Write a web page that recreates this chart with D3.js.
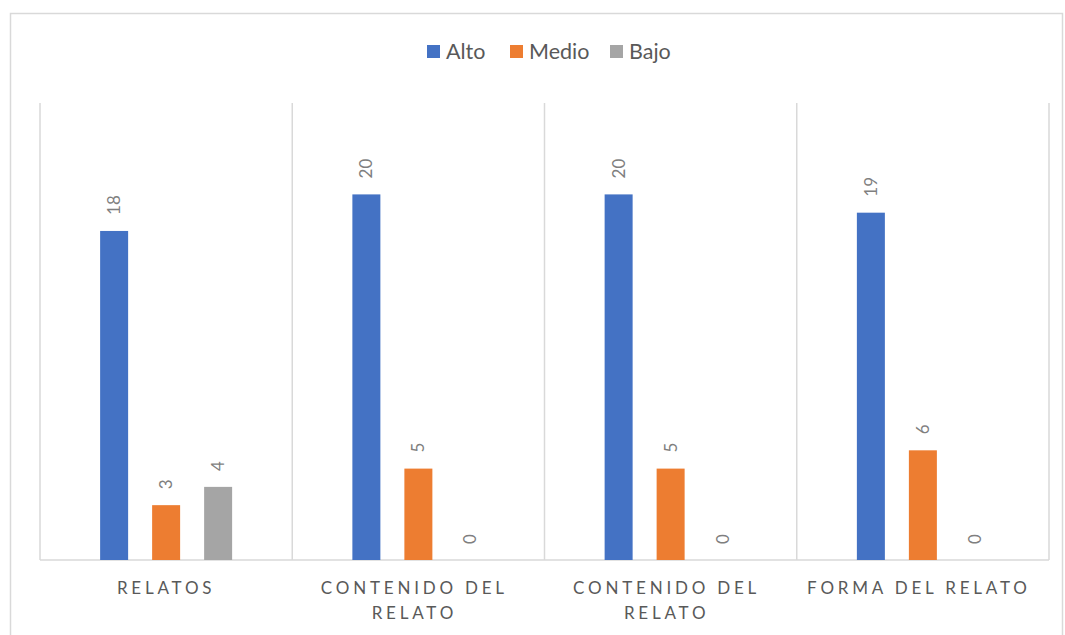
<!DOCTYPE html>
<html><head><meta charset="utf-8">
<script src="https://cdn.jsdelivr.net/npm/d3@7/dist/d3.min.js"></script>
<style>body{margin:0;background:#fff;}svg{display:block;font-family:Lato,"Open Sans",sans-serif;}</style>
</head><body>
<svg id="chart" width="1065" height="635"></svg>
<script>
const categories = [["RELATOS"], ["CONTENIDO DEL", "RELATO"], ["CONTENIDO DEL", "RELATO"], ["FORMA DEL RELATO"]];
const seriesNames = ["Alto", "Medio", "Bajo"];
const seriesColors = ["#4472c4", "#ed7d31", "#a5a5a5"];
const alto = [18, 20, 20, 19];
const medio = [3, 5, 5, 6];
const bajo = [4, 0, 0, 0];
const values = [alto, medio, bajo];

const svg = d3.select("#chart");
// outer chart border
svg.append("rect").attr("x", 10.5).attr("y", 13.5).attr("width", 1052).attr("height", 640)
  .attr("fill", "none").attr("stroke", "#d9d9d9").attr("stroke-width", 1.5);

const pLeft = 40, pRight = 1049, pTop = 103, pBottom = 560;
const x = d3.scaleBand().domain(d3.range(categories.length)).range([pLeft, pRight]).padding(0);
const y = d3.scaleLinear().domain([0, 25]).range([pBottom, pTop]);
const barW = 28, step = 52;

// vertical separators
const seps = d3.range(categories.length + 1).map(i => pLeft + i * x.bandwidth());
svg.selectAll(".sep").data(seps).enter().append("line")
  .attr("x1", d => d).attr("x2", d => d).attr("y1", pTop).attr("y2", pBottom)
  .attr("stroke", "#d9d9d9").attr("stroke-width", 1.5);
svg.append("line").attr("x1", pLeft).attr("x2", pRight).attr("y1", pBottom).attr("y2", pBottom)
  .attr("stroke", "#d9d9d9").attr("stroke-width", 1.5);

// bars
values.forEach((vals, s) => {
  vals.forEach((v, i) => {
    const cx = x(i) + x.bandwidth() / 2 + (s - 1) * step;
    if (v > 0) {
      svg.append("rect").attr("x", cx - barW / 2).attr("y", y(v)).attr("width", barW)
        .attr("height", pBottom - y(v)).attr("fill", seriesColors[s]);
    }
    svg.append("text").attr("transform", `translate(${cx + 6},${y(v) - 16}) rotate(-90)`)
      .attr("text-anchor", "start").attr("font-size", 17).attr("fill", "#7f7f7f").text(v);
  });
});

// category labels
categories.forEach((lines, i) => {
  const cx = x(i) + x.bandwidth() / 2;
  lines.forEach((ln, j) => {
    svg.append("text").attr("x", cx - (lines.length > 1 || ln.length > 10 ? 4 : 0)).attr("y", 594 + j * 25).attr("text-anchor", "middle")
      .attr("font-size", 17).attr("letter-spacing", "3.8px").attr("fill", "#595959").text(ln);
  });
});

// legend
const legX = [427, 510, 610];
seriesNames.forEach((n, s) => {
  svg.append("rect").attr("x", legX[s]).attr("y", 45).attr("width", 13).attr("height", 13).attr("fill", seriesColors[s]);
  svg.append("text").attr("x", legX[s] + 19).attr("y", 59).attr("font-size", 21.5).attr("fill", "#595959").text(n);
});
</script>
</body></html>
